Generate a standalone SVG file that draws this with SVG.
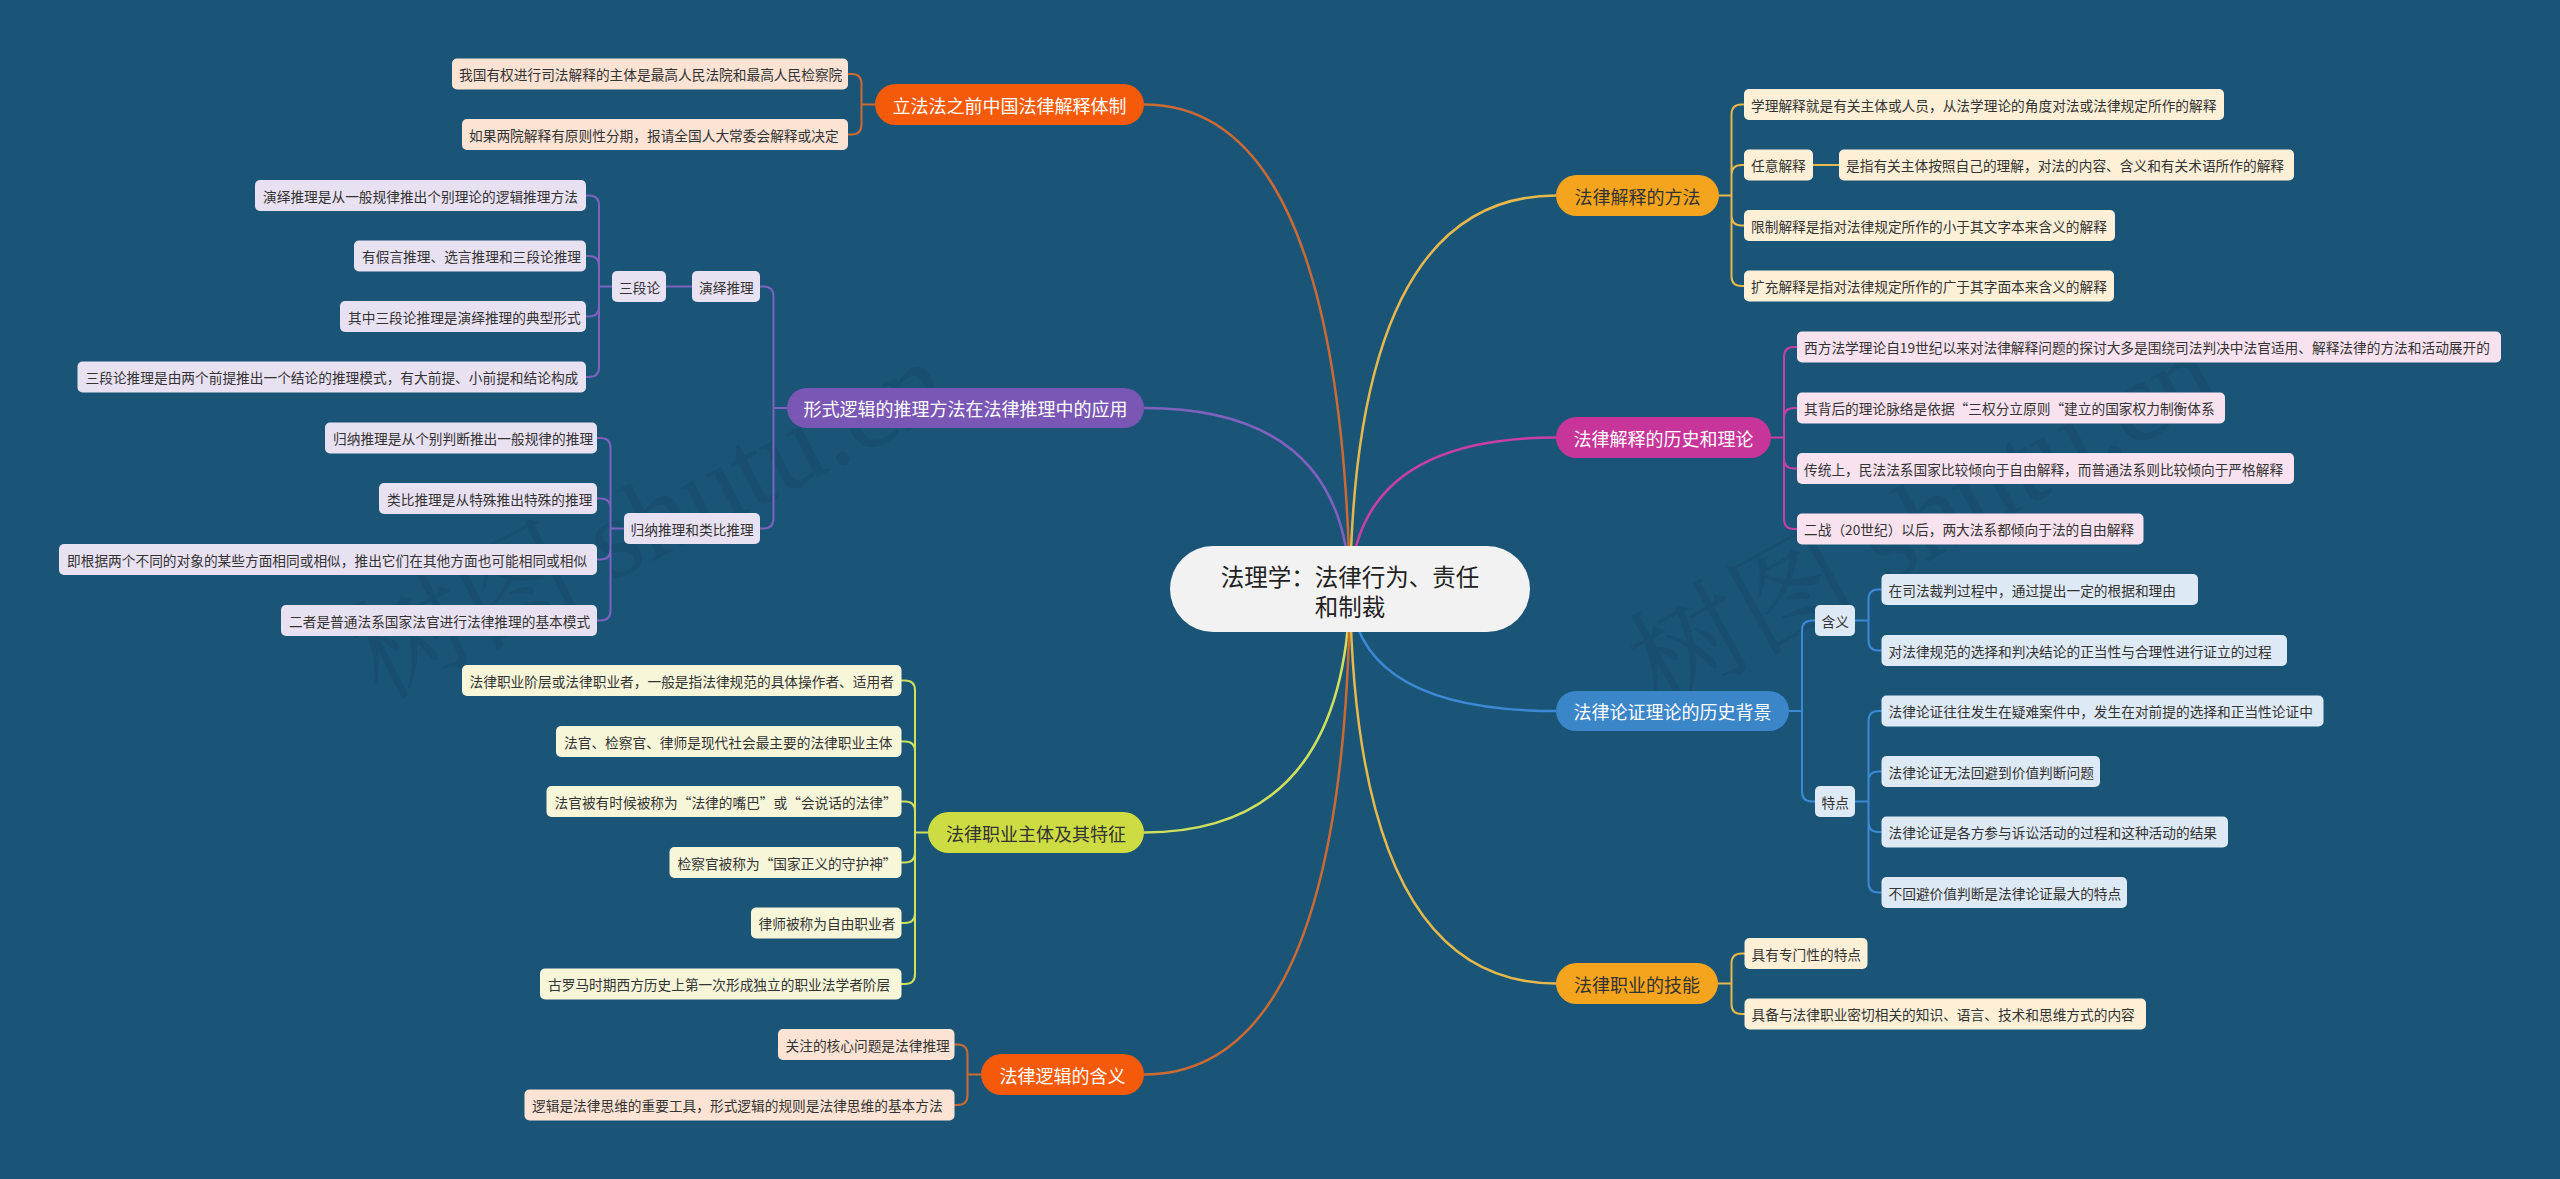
<svg xmlns="http://www.w3.org/2000/svg" width="2560" height="1179" viewBox="0 0 2560 1179">
<style>
text{font-family:"Noto Sans CJK SC","Noto Sans",sans-serif;dominant-baseline:central}
.lt{font-size:13.7px;fill:#333333}
.mt{font-size:18px;text-anchor:middle}
.w{fill:#ffffff}.d{fill:#333333}
.lo{fill:#fde3d3}.lp{fill:#e8e1f2}.ly{fill:#f7f6d9}.lg{fill:#fdf0d7}.lm{fill:#f8e2ef}.lb{fill:#dde9f5}
.mo{fill:#f45a0a}.mp{fill:#7b57b5}.my{fill:#cddc43}.mg{fill:#f5a51d}.mm{fill:#c8359a}.mb{fill:#3b85c9}
.c{fill:none;stroke-width:2;stroke-linecap:round}
.r{fill:none;stroke-width:2.5}
.co{stroke:#cd6a33}.cp{stroke:#7e62bd}.cy{stroke:#cfe05c}.cg{stroke:#e7b84b}.cm{stroke:#c93fa2}.cb{stroke:#3c8ad3}
.wm{font-family:"Liberation Serif","Noto Serif CJK SC","Noto Sans CJK SC",serif;font-size:115px;fill:#000;opacity:0.07;dominant-baseline:auto}
</style>
<rect x="0" y="0" width="2560" height="1179" fill="#1a5578"/>
<text class="wm" transform="translate(380,700) rotate(-27)">树图 shutu.cn</text>
<text class="wm" transform="translate(1660,710) rotate(-29)">树图 shutu.cn</text>

<g id="connectors">
<path class="r co" d="M1350 589 Q1340 104.5 1144 104.5"/>
<path class="r cp" d="M1350 589 Q1345 408 1144 408"/>
<path class="r cy" d="M1350 589 Q1345 832.5 1144 832.5"/>
<path class="r co" d="M1350 589 Q1345 1074.5 1144 1074.5"/>
<path class="r cg" d="M1350 589 Q1355 195.5 1556 195.5"/>
<path class="r cm" d="M1350 589 Q1355 437.5 1556 437.5"/>
<path class="r cb" d="M1350 589 Q1355 711 1556 711"/>
<path class="r cg" d="M1350 589 Q1355 983.5 1556 983.5"/>

<path class="c cg" d="M1719 195.5 H1731.5 M1731.5 195.5 V114.5 Q1731.5 104.5 1741.5 104.5 H1744 M1731.5 195.5 V175 Q1731.5 165 1741.5 165 H1744 M1731.5 195.5 V215.5 Q1731.5 225.5 1741.5 225.5 H1744 M1731.5 195.5 V276 Q1731.5 286 1741.5 286 H1744 M1813 165 H1839"/>
<path class="c cm" d="M1771 437.5 H1784 M1784 437.5 V357 Q1784 347 1794 347 H1797 M1784 437.5 V418 Q1784 408 1794 408 H1797 M1784 437.5 V458.5 Q1784 468.5 1794 468.5 H1797 M1784 437.5 V519 Q1784 529 1794 529 H1797"/>
<path class="c cb" d="M1789 711 H1802 M1802 711 V630.5 Q1802 620.5 1812 620.5 H1815 M1802 711 V791.5 Q1802 801.5 1812 801.5 H1815 M1855 620.5 H1868.5 M1868.5 620.5 V599.5 Q1868.5 589.5 1878.5 589.5 H1881.5 M1868.5 620.5 V640.5 Q1868.5 650.5 1878.5 650.5 H1881.5 M1855 801.5 H1868.5 M1868.5 801.5 V721 Q1868.5 711 1878.5 711 H1881.5 M1868.5 801.5 V781.5 Q1868.5 771.5 1878.5 771.5 H1881.5 M1868.5 801.5 V822 Q1868.5 832 1878.5 832 H1881.5 M1868.5 801.5 V882.5 Q1868.5 892.5 1878.5 892.5 H1881.5"/>
<path class="c cg" d="M1718 983.5 H1731.5 M1731.5 983.5 V963.5 Q1731.5 953.5 1741.5 953.5 H1744.5 M1731.5 983.5 V1004 Q1731.5 1014 1741.5 1014 H1744.5"/>
<path class="c co" d="M875 104.5 H861.5 M861.5 104.5 V84 Q861.5 74 851.5 74 H848 M861.5 104.5 V124.5 Q861.5 134.5 851.5 134.5 H848"/>
<path class="c cp" d="M787 408 H773.5 M773.5 408 V296.5 Q773.5 286.5 763.5 286.5 H760 M773.5 408 V518.5 Q773.5 528.5 763.5 528.5 H760 M692 286.5 H666 M612 286.5 H599 M599 286.5 V205.5 Q599 195.5 589 195.5 H586 M599 286.5 V266 Q599 256 589 256 H586 M599 286.5 V306.5 Q599 316.5 589 316.5 H586 M599 286.5 V367 Q599 377 589 377 H586 M624 528.5 H610.5 M610.5 528.5 V448 Q610.5 438 600.5 438 H597 M610.5 528.5 V508.5 Q610.5 498.5 600.5 498.5 H597 M610.5 528.5 V549.5 Q610.5 559.5 600.5 559.5 H597 M610.5 528.5 V610.5 Q610.5 620.5 600.5 620.5 H597"/>
<path class="c cy" d="M928 832.5 H915 M915 832.5 V690.5 Q915 680.5 905 680.5 H901.5 M915 832.5 V751.5 Q915 741.5 905 741.5 H901.5 M915 832.5 V811.5 Q915 801.5 905 801.5 H901.5 M915 832.5 V852.5 Q915 862.5 905 862.5 H901.5 M915 832.5 V913 Q915 923 905 923 H901.5 M915 832.5 V974 Q915 984 905 984 H901.5"/>
<path class="c co" d="M981 1074.5 H967.5 M967.5 1074.5 V1054.5 Q967.5 1044.5 957.5 1044.5 H954.5 M967.5 1074.5 V1095 Q967.5 1105 957.5 1105 H954.5"/>
</g>

<g id="root">
<rect x="1170" y="546" width="360" height="86" rx="43" fill="#f2f2f2"/>
<text x="1350" y="576" font-size="23.5" text-anchor="middle" fill="#222">法理学：法律行为、责任</text>
<text x="1350" y="606" font-size="23.5" text-anchor="middle" fill="#222">和制裁</text>
</g>

<g id="n-lifa"><rect class="mo" x="875" y="84" width="269" height="41" rx="20.5"/><text class="mt w" x="1009.5" y="104.5">立法法之前中国法律解释体制</text></g>
<g id="n-xingshi"><rect class="mp" x="787" y="388" width="357" height="40" rx="20"/><text class="mt w" x="965.5" y="408">形式逻辑的推理方法在法律推理中的应用</text></g>
<g id="n-zhiyezhuti"><rect class="my" x="928" y="812" width="216" height="41" rx="20.5"/><text class="mt d" x="1036" y="832.5">法律职业主体及其特征</text></g>
<g id="n-luoji"><rect class="mo" x="981" y="1054" width="163" height="41" rx="20.5"/><text class="mt w" x="1062.5" y="1074.5">法律逻辑的含义</text></g>
<g id="n-fangfa"><rect class="mg" x="1556" y="175" width="163" height="41" rx="20.5"/><text class="mt d" x="1637.5" y="195.5">法律解释的方法</text></g>
<g id="n-lishi"><rect class="mm" x="1556" y="417" width="215" height="41" rx="20.5"/><text class="mt w" x="1663.5" y="437.5">法律解释的历史和理论</text></g>
<g id="n-lunzheng"><rect class="mb" x="1556" y="691" width="233" height="40" rx="20"/><text class="mt w" x="1672.5" y="711">法律论证理论的历史背景</text></g>
<g id="n-jineng"><rect class="mg" x="1556" y="963" width="162" height="41" rx="20.5"/><text class="mt d" x="1637" y="983.5">法律职业的技能</text></g>

<g id="l-o1"><rect class="lo" x="452" y="58.5" width="396" height="31" rx="5"/><text class="lt" x="459" y="74">我国有权进行司法解释的主体是最高人民法院和最高人民检察院</text></g>
<g id="l-o2"><rect class="lo" x="462" y="119" width="386" height="31" rx="5"/><text class="lt" x="469" y="134.5">如果两院解释有原则性分期，报请全国人大常委会解释或决定</text></g>

<g id="l-p-yanyi"><rect class="lp" x="692" y="271" width="68" height="31" rx="5"/><text class="lt" x="699" y="286.5">演绎推理</text></g>
<g id="l-p-sanduan"><rect class="lp" x="612" y="271" width="54" height="31" rx="5"/><text class="lt" x="619" y="286.5">三段论</text></g>
<g id="l-p1"><rect class="lp" x="255" y="180" width="331" height="31" rx="5"/><text class="lt" x="263" y="195.5">演绎推理是从一般规律推出个别理论的逻辑推理方法</text></g>
<g id="l-p2"><rect class="lp" x="354" y="240.5" width="232" height="31" rx="5"/><text class="lt" x="362" y="256">有假言推理、选言推理和三段论推理</text></g>
<g id="l-p3"><rect class="lp" x="340" y="301" width="246" height="31" rx="5"/><text class="lt" x="348" y="316.5">其中三段论推理是演绎推理的典型形式</text></g>
<g id="l-p4"><rect class="lp" x="77.5" y="361.5" width="508.5" height="31" rx="5"/><text class="lt" x="85.5" y="377">三段论推理是由两个前提推出一个结论的推理模式，有大前提、小前提和结论构成</text></g>
<g id="l-p-guina"><rect class="lp" x="624" y="513" width="136" height="31" rx="5"/><text class="lt" x="630.5" y="528.5">归纳推理和类比推理</text></g>
<g id="l-p5"><rect class="lp" x="325" y="422.5" width="272" height="31" rx="5"/><text class="lt" x="333" y="438">归纳推理是从个别判断推出一般规律的推理</text></g>
<g id="l-p6"><rect class="lp" x="379" y="483" width="218" height="31" rx="5"/><text class="lt" x="387" y="498.5">类比推理是从特殊推出特殊的推理</text></g>
<g id="l-p7"><rect class="lp" x="59" y="544" width="538" height="31" rx="5"/><text class="lt" x="67" y="559.5">即根据两个不同的对象的某些方面相同或相似，推出它们在其他方面也可能相同或相似</text></g>
<g id="l-p8"><rect class="lp" x="281" y="605" width="316" height="31" rx="5"/><text class="lt" x="289" y="620.5">二者是普通法系国家法官进行法律推理的基本模式</text></g>

<g id="l-y1"><rect class="ly" x="462" y="665" width="439.5" height="31" rx="5"/><text class="lt" x="469.5" y="680.5">法律职业阶层或法律职业者，一般是指法律规范的具体操作者、适用者</text></g>
<g id="l-y2"><rect class="ly" x="556" y="726" width="345.5" height="31" rx="5"/><text class="lt" x="564" y="741.5">法官、检察官、律师是现代社会最主要的法律职业主体</text></g>
<g id="l-y3"><rect class="ly" x="546.5" y="786" width="355" height="31" rx="5"/><text class="lt" x="554.5" y="801.5">法官被有时候被称为“法律的嘴巴”或“会说话的法律”</text></g>
<g id="l-y4"><rect class="ly" x="669.5" y="847" width="232" height="31" rx="5"/><text class="lt" x="677.5" y="862.5">检察官被称为“国家正义的守护神”</text></g>
<g id="l-y5"><rect class="ly" x="751" y="907.5" width="150.5" height="31" rx="5"/><text class="lt" x="758.5" y="923">律师被称为自由职业者</text></g>
<g id="l-y6"><rect class="ly" x="540" y="968.5" width="361.5" height="31" rx="5"/><text class="lt" x="548" y="984">古罗马时期西方历史上第一次形成独立的职业法学者阶层</text></g>

<g id="l-o3"><rect class="lo" x="778" y="1029" width="176.5" height="31" rx="5"/><text class="lt" x="785.5" y="1044.5">关注的核心问题是法律推理</text></g>
<g id="l-o4"><rect class="lo" x="524.5" y="1089.5" width="430" height="31" rx="5"/><text class="lt" x="532" y="1105">逻辑是法律思维的重要工具，形式逻辑的规则是法律思维的基本方法</text></g>

<g id="l-g1"><rect class="lg" x="1744" y="89" width="480" height="31" rx="5"/><text class="lt" x="1751" y="104.5">学理解释就是有关主体或人员，从法学理论的角度对法或法律规定所作的解释</text></g>
<g id="l-g-renyi"><rect class="lg" x="1744" y="149.5" width="69" height="31" rx="5"/><text class="lt" x="1751" y="165">任意解释</text></g>
<g id="l-g2"><rect class="lg" x="1839" y="149.5" width="455" height="31" rx="5"/><text class="lt" x="1846" y="165">是指有关主体按照自己的理解，对法的内容、含义和有关术语所作的解释</text></g>
<g id="l-g3"><rect class="lg" x="1744" y="210" width="371" height="31" rx="5"/><text class="lt" x="1751" y="225.5">限制解释是指对法律规定所作的小于其文字本来含义的解释</text></g>
<g id="l-g4"><rect class="lg" x="1744" y="270.5" width="370" height="31" rx="5"/><text class="lt" x="1751" y="286">扩充解释是指对法律规定所作的广于其字面本来含义的解释</text></g>

<g id="l-m1"><rect class="lm" x="1797" y="331.5" width="704" height="31" rx="5"/><text class="lt" x="1804" y="347">西方法学理论自19世纪以来对法律解释问题的探讨大多是围绕司法判决中法官适用、解释法律的方法和活动展开的</text></g>
<g id="l-m2"><rect class="lm" x="1797" y="392.5" width="428" height="31" rx="5"/><text class="lt" x="1804" y="408">其背后的理论脉络是依据“三权分立原则“建立的国家权力制衡体系</text></g>
<g id="l-m3"><rect class="lm" x="1797" y="453" width="497" height="31" rx="5"/><text class="lt" x="1804" y="468.5">传统上，民法法系国家比较倾向于自由解释，而普通法系则比较倾向于严格解释</text></g>
<g id="l-m4"><rect class="lm" x="1797" y="513.5" width="346.5" height="31" rx="5"/><text class="lt" x="1804" y="529">二战（20世纪）以后，两大法系都倾向于法的自由解释</text></g>

<g id="l-b-hanyi"><rect class="lb" x="1815" y="605" width="40" height="31" rx="5"/><text class="lt" x="1821.5" y="620.5">含义</text></g>
<g id="l-b-tedian"><rect class="lb" x="1815" y="786" width="40" height="31" rx="5"/><text class="lt" x="1821.5" y="801.5">特点</text></g>
<g id="l-b1"><rect class="lb" x="1881.5" y="574" width="316.5" height="31" rx="5"/><text class="lt" x="1888.5" y="589.5">在司法裁判过程中，通过提出一定的根据和理由</text></g>
<g id="l-b2"><rect class="lb" x="1881.5" y="635" width="405.5" height="31" rx="5"/><text class="lt" x="1888.5" y="650.5">对法律规范的选择和判决结论的正当性与合理性进行证立的过程</text></g>
<g id="l-b3"><rect class="lb" x="1881.5" y="695.5" width="442" height="31" rx="5"/><text class="lt" x="1888.5" y="711">法律论证往往发生在疑难案件中，发生在对前提的选择和正当性论证中</text></g>
<g id="l-b4"><rect class="lb" x="1881.5" y="756" width="218.5" height="31" rx="5"/><text class="lt" x="1888.5" y="771.5">法律论证无法回避到价值判断问题</text></g>
<g id="l-b5"><rect class="lb" x="1881.5" y="816.5" width="346.5" height="31" rx="5"/><text class="lt" x="1888.5" y="832">法律论证是各方参与诉讼活动的过程和这种活动的结果</text></g>
<g id="l-b6"><rect class="lb" x="1881.5" y="877" width="245.5" height="31" rx="5"/><text class="lt" x="1888.5" y="892.5">不回避价值判断是法律论证最大的特点</text></g>

<g id="l-g5"><rect class="lg" x="1744.5" y="938" width="123" height="31" rx="5"/><text class="lt" x="1751.5" y="953.5">具有专门性的特点</text></g>
<g id="l-g6"><rect class="lg" x="1744.5" y="998.5" width="401.5" height="31" rx="5"/><text class="lt" x="1751.5" y="1014">具备与法律职业密切相关的知识、语言、技术和思维方式的内容</text></g>
</svg>
